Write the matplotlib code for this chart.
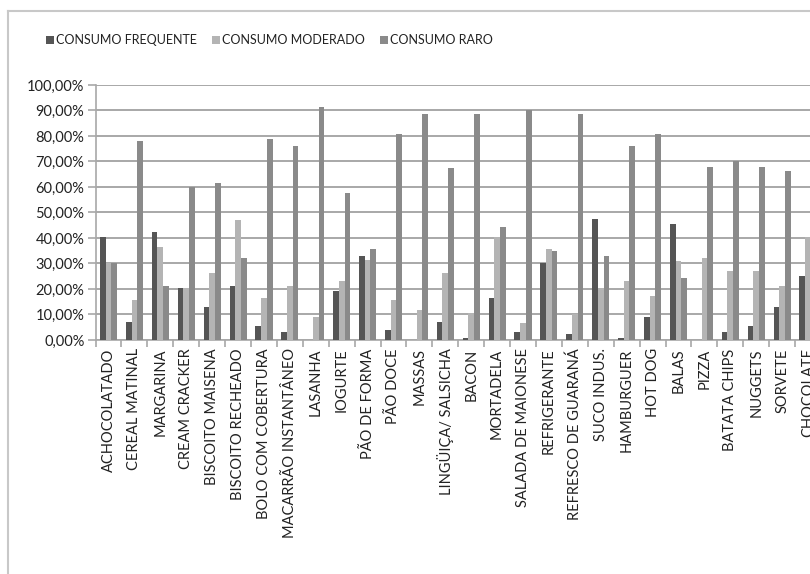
import numpy as np
import matplotlib.pyplot as plt
from matplotlib.lines import Line2D

plt.rcParams['font.family'] = ['Lato', 'DejaVu Sans']

alimentos = ['ACHOCOLATADO', 'CEREAL MATINAL', 'MARGARINA', 'CREAM CRACKER',
             'BISCOITO MAISENA', 'BISCOITO RECHEADO', 'BOLO COM COBERTURA',
             'MACARRÃO INSTANTÂNEO', 'LASANHA', 'IOGURTE', 'PÃO DE FORMA',
             'PÃO DOCE', 'MASSAS', 'LINGÜIÇA/ SALSICHA', 'BACON', 'MORTADELA',
             'SALADA DE MAIONESE', 'REFRIGERANTE', 'REFRESCO DE GUARANÁ',
             'SUCO INDUS.', 'HAMBURGUER', 'HOT DOG', 'BALAS', 'PIZZA',
             'BATATA CHIPS', 'NUGGETS', 'SORVETE', 'CHOCOLATE']

# percentuais por categoria de consumo
frequente = [40.5, 7.2, 42.5, 20.3, 12.8, 21.3, 5.3, 3.2, 0.0, 19.3, 32.8, 4.0,
             0.0, 7.0, 0.8, 16.5, 3.2, 30.2, 2.2, 47.3, 0.8, 9.0, 45.3, 0.0,
             3.2, 5.3, 12.8, 25.0]
moderado = [30.2, 15.6, 36.5, 20.3, 26.3, 47.0, 16.5, 21.3, 9.0, 23.2, 31.5,
            15.6, 11.8, 26.3, 10.6, 40.2, 6.8, 35.7, 10.0, 20.3, 23.3, 17.2,
            31.0, 32.2, 27.0, 27.0, 21.3, 40.3]
raro = [30.2, 78.0, 21.2, 60.0, 61.5, 32.2, 78.8, 76.0, 91.2, 57.6, 35.7, 80.7,
        88.5, 67.4, 88.5, 44.3, 90.3, 35.0, 88.5, 32.8, 76.0, 80.7, 24.2, 68.0,
        70.2, 68.0, 66.4, 35.0]

fig = plt.figure(figsize=(8.1, 5.74), dpi=100)
ax = fig.add_axes([0.118, 0.4077, 0.8955, 0.4443])

x = np.arange(len(alimentos))
w = 0.22
ax.bar(x - w, frequente, w, color='#555555', label='CONSUMO FREQUENTE', zorder=3)
ax.bar(x, moderado, w, color='#b4b4b4', label='CONSUMO MODERADO', zorder=3)
ax.bar(x + w, raro, w, color='#8a8a8a', label='CONSUMO RARO', zorder=3)

ax.set_xlim(-0.5, len(alimentos) - 0.5)
ax.set_ylim(0, 100)
ax.set_yticks(np.arange(0, 101, 10))
ax.set_yticklabels([f'{v:.2f}%'.replace('.', ',') for v in range(0, 101, 10)],
                   fontsize=10.5, color='#222222')
ax.yaxis.grid(True, color='#a8a8a8', linewidth=1.4, zorder=0)
ax.tick_params(axis='y', length=6, color='#a8a8a8', width=1.2, pad=2)

ax.set_xticks(x)
ax.set_xticklabels(alimentos, rotation=90, fontsize=10.5, color='#222222')
ax.set_xticks(np.arange(-0.5, len(alimentos)), minor=True)
ax.tick_params(axis='x', which='major', length=0, pad=6)
ax.tick_params(axis='x', which='minor', length=5, color='#a8a8a8', width=1.2)

for s in ['top', 'right']:
    ax.spines[s].set_visible(False)
for s in ['left', 'bottom']:
    ax.spines[s].set_color('#a8a8a8')
    ax.spines[s].set_linewidth(1.2)

leg = fig.legend(loc='center', bbox_to_anchor=(0.333, 0.93), ncol=3,
                 frameon=False, fontsize=9, handlelength=0.6,
                 handleheight=0.6, handletextpad=0.2, columnspacing=1.2)
for t in leg.get_texts():
    t.set_color('#222222')

# borda do gráfico
x0 = 8 / 810
y0 = 1 - 11 / 574
fig.add_artist(Line2D([x0, x0], [0, y0], transform=fig.transFigure,
                      color='#c8c8c8', linewidth=1.5))
fig.add_artist(Line2D([x0, 1.0], [y0, y0], transform=fig.transFigure,
                      color='#c8c8c8', linewidth=1.5))

fig.savefig('out.png', dpi=100)
